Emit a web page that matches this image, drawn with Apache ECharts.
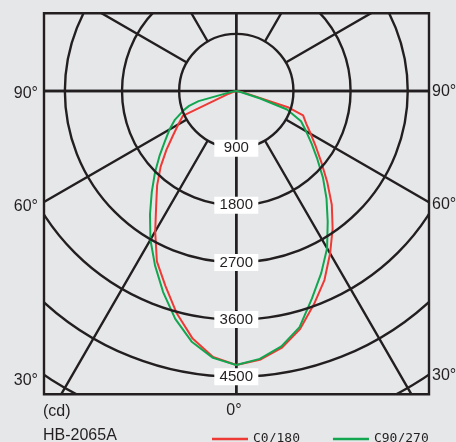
<!DOCTYPE html>
<html>
<head>
<meta charset="utf-8">
<script src="https://cdn.jsdelivr.net/npm/echarts@6/dist/echarts.min.js"></script>
<style>
html,body{margin:0;padding:0;background:#e6e7e9;}
#chart{width:456px;height:442px;}
</style>
</head>
<body>
<div id="chart"></div>
<script>
// gamma angles (degrees from nadir) for each half-plane
const gammaAngles = [0,5,10,15,20,25,30,35,40,45,50,55,60,65,70,72.5,75,80,85,90];
// intensities in cd
const c0Values   = [4315,4250,4110,3880,3575,3285,2955,2645,2340,2025,1750,1530,1355,1215,1120,865,235,80,30,0];
const c180Values = [4315,4205,3960,3625,3265,2960,2555,2200,1940,1685,1435,1215,1055,930,125,45,0,0,0,0];
const c90Values  = [4315,4235,4085,3850,3480,3165,2860,2510,2210,1930,1665,1450,1270,1125,850,395,95,30,15,0];
const c270Values = [4315,4220,4015,3715,3370,3030,2705,2370,2070,1810,1575,1370,1215,1065,880,780,615,80,15,0];
const seriesNames = ['C0/180', 'C90/270'];
const radialTickLabels = ['900','1800','2700','3600','4500'];
const angleLabels = ['90°','60°','30°'];
const unitLabel = '(cd)';
const nadirLabel = '0°';
const modelLabel = 'HB-2065A';

// left half-plane drawn at 360 - gamma, right half-plane at gamma
function buildCurve(left, right) {
  const pts = [];
  for (let i = gammaAngles.length - 1; i >= 0; i--) pts.push([left[i], 360 - gammaAngles[i]]);
  for (let i = 1; i < gammaAngles.length; i++) pts.push([right[i], gammaAngles[i]]);
  return pts;
}

const BG = '#e6e7e9';
const INK = '#231f20';
const FONT = 'Liberation Sans, Arial, sans-serif';
const CX = 236.3, CY = 91, R = 400;
const box = {x: 44, y: 13.3, w: 385, h: 381};

const chart = echarts.init(document.getElementById('chart'));
const lineStyleGrid = {color: INK, width: 2.4};

const maskRects = [
  {x: 0, y: 0, width: 456, height: box.y},
  {x: 0, y: box.y + box.h, width: 456, height: 442 - box.y - box.h},
  {x: 0, y: 0, width: box.x, height: 442},
  {x: box.x + box.w, y: 0, width: 456 - box.x - box.w, height: 442}
].map(s => ({type: 'rect', shape: s, style: {fill: BG}, z: 100, silent: true}));

const leftY = [94, 207, 381];
const rightY = [91.5, 205, 376];
const texts = [];
angleLabels.forEach((t, i) => {
  texts.push({type: 'text', x: 38, y: leftY[i], z: 110, style: {text: t, fill: INK, font: '16px ' + FONT, align: 'right', verticalAlign: 'middle'}});
  texts.push({type: 'text', x: 432, y: rightY[i], z: 110, style: {text: t, fill: INK, font: '16px ' + FONT, align: 'left', verticalAlign: 'middle'}});
});
texts.push({type: 'text', x: 43, y: 412, z: 110, style: {text: unitLabel, fill: INK, font: '16px ' + FONT, align: 'left', verticalAlign: 'middle'}});
texts.push({type: 'text', x: 234, y: 411, z: 110, style: {text: nadirLabel, fill: INK, font: '16px ' + FONT, align: 'center', verticalAlign: 'middle'}});
texts.push({type: 'text', x: 43, y: 436, z: 110, style: {text: modelLabel, fill: INK, font: '16px ' + FONT, align: 'left', verticalAlign: 'middle'}});

const option = {
  backgroundColor: BG,
  animation: false,
  polar: [
    {center: [CX, CY], radius: R},
    {center: [CX, CY], radius: [R * 900 / 6300, R]}
  ],
  angleAxis: [
    {polarIndex: 0, type: 'value', min: 0, max: 360, interval: 90, startAngle: 270, clockwise: false,
     axisLine: {show: false}, axisTick: {show: false}, axisLabel: {show: false},
     splitLine: {show: true, lineStyle: lineStyleGrid}, z: 1},
    {polarIndex: 1, type: 'value', min: 0, max: 360, interval: 30, startAngle: 270, clockwise: false,
     axisLine: {show: false}, axisTick: {show: false}, axisLabel: {show: false},
     splitLine: {show: true, lineStyle: lineStyleGrid}, z: 1}
  ],
  radiusAxis: [
    {polarIndex: 0, type: 'value', min: 0, max: 6300, interval: 900,
     axisLine: {show: false}, axisTick: {show: false},
     splitLine: {show: true, lineStyle: lineStyleGrid},
     axisLabel: {
       show: true, margin: 0, align: 'center', verticalAlign: 'middle',
       formatter: v => radialTickLabels.includes(String(v)) ? '{b|' + v + '}' : '',
       rich: {b: {backgroundColor: '#ffffff', width: 44, height: 17, lineHeight: 17, align: 'center',
                  fontSize: 15, fontFamily: FONT, color: INK}}
     }, z: 5},
    {polarIndex: 1, type: 'value', min: 0, max: 6300, show: false,
     axisLine: {show: false}, axisTick: {show: false}, axisLabel: {show: false}, splitLine: {show: false}}
  ],
  legend: {
    left: 207, top: 427, itemGap: 33, itemWidth: 36, itemHeight: 2.5, icon: 'rect', z: 120,
    textStyle: {fontFamily: 'DejaVu Sans Mono, monospace', fontSize: 13, color: INK, lineHeight: 14},
    data: seriesNames
  },
  series: [
    {name: seriesNames[0], type: 'line', coordinateSystem: 'polar', polarIndex: 0,
     data: buildCurve(c180Values, c0Values), showSymbol: false, symbol: 'none',
     lineStyle: {color: '#ee3a35', width: 2}, itemStyle: {color: '#ee3a35'}, z: 3},
    {name: seriesNames[1], type: 'line', coordinateSystem: 'polar', polarIndex: 0,
     data: buildCurve(c270Values, c90Values), showSymbol: false, symbol: 'none',
     lineStyle: {color: '#12a650', width: 2}, itemStyle: {color: '#12a650'}, z: 3}
  ],
  graphic: [
    ...maskRects,
    {type: 'rect', shape: {x: box.x, y: box.y, width: box.w, height: box.h}, style: {fill: 'none', stroke: INK, lineWidth: 2.4}, z: 105, silent: true},
    ...texts
  ]
};
chart.setOption(option);
</script>
</body>
</html>
